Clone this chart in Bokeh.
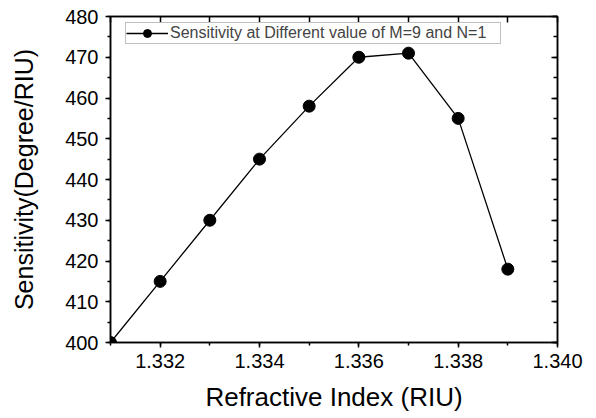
from bokeh.plotting import figure
from bokeh.models import (LinearAxis, Range1d, Legend, LegendItem, FixedTicker,
                          CustomJSTickFormatter, PrintfTickFormatter)
from bokeh.embed import file_html
from bokeh.resources import INLINE

refractive_index = [1.331, 1.332, 1.333, 1.334, 1.335, 1.336, 1.337, 1.338, 1.339]
sensitivity = [400, 415, 430, 445, 458, 470, 471, 455, 418]
x_ticks = [1.332, 1.334, 1.336, 1.338, 1.340]
x_minor = [1.331, 1.332, 1.333, 1.334, 1.335, 1.336, 1.337, 1.338, 1.339, 1.340]
y_ticks = [400, 410, 420, 430, 440, 450, 460, 470, 480]
y_minor = [400, 405, 410, 415, 420, 425, 430, 435, 440, 445, 450, 455, 460, 465, 470, 475, 480]

FONT = "Liberation Sans"

p = figure(width=596, height=418, output_backend="svg", toolbar_location=None,
           x_range=Range1d(1.331, 1.340), y_range=Range1d(400, 480),
           min_border_left=110, min_border_right=39, min_border_top=16, min_border_bottom=76)
p.xgrid.visible = False
p.ygrid.visible = False
p.outline_line_color = "black"
p.outline_line_width = 1.5
p.background_fill_color = "white"
p.border_fill_color = "white"

for ax in [p.xaxis[0], p.yaxis[0]]:
    ax.axis_line_width = 1.5
    ax.major_tick_line_width = 1.5
    ax.minor_tick_line_width = 1.5
    ax.major_tick_out = 5
    ax.major_tick_in = 0
    ax.minor_tick_out = 3
    ax.minor_tick_in = 0
    ax.major_label_text_font = FONT
    ax.major_label_text_font_size = "20px"
    ax.major_label_text_color = "black"
    ax.axis_label_text_font = FONT
    ax.axis_label_text_font_style = "normal"
    ax.axis_label_text_color = "black"

p.xaxis[0].axis_label_text_font_size = "26px"
p.yaxis[0].axis_label_text_font_size = "25px"
p.xaxis[0].ticker = FixedTicker(ticks=x_ticks, minor_ticks=x_minor)
p.yaxis[0].ticker = FixedTicker(ticks=y_ticks, minor_ticks=y_minor)
p.xaxis[0].formatter = PrintfTickFormatter(format="%.3f")
p.xaxis[0].axis_label = "Refractive Index (RIU)"
p.yaxis[0].axis_label = "Sensitivity(Degree/RIU)"
p.xaxis[0].major_label_standoff = 6
p.xaxis[0].axis_label_standoff = 11
p.yaxis[0].major_label_standoff = 7
p.yaxis[0].axis_label_standoff = 24

blank = CustomJSTickFormatter(code="return ''")
top = LinearAxis(ticker=FixedTicker(ticks=x_minor, minor_ticks=[]), formatter=blank,
                 major_tick_in=6, major_tick_out=0,
                 minor_tick_in=0, minor_tick_out=0, axis_line_width=1.5,
                 major_tick_line_width=1.5, minor_tick_line_width=1.5, major_label_standoff=0)
right = LinearAxis(ticker=FixedTicker(ticks=y_ticks, minor_ticks=y_minor), formatter=blank,
                   major_tick_in=6, major_tick_out=0,
                   minor_tick_in=4, minor_tick_out=0, axis_line_width=1.5,
                   major_tick_line_width=1.5, minor_tick_line_width=1.5, major_label_standoff=0)
p.add_layout(top, "above")
p.add_layout(right, "right")

ln = p.line(refractive_index, sensitivity, line_color="black", line_width=1.3)
sc = p.scatter(refractive_index, sensitivity, size=12, fill_color="black", line_color="black")

legend = Legend(items=[LegendItem(label="Sensitivity at Different value of M=9 and N=1", renderers=[ln, sc])],
                location=(15, 298), label_text_font=FONT, label_text_font_size="16px",
                border_line_color="gray", border_line_width=1, background_fill_alpha=1,
                padding=0, margin=0, spacing=0, glyph_width=42, glyph_height=20,
                label_standoff=2, label_height=18, label_width=330)
p.add_layout(legend)

open("out.html", "w").write(file_html(p, INLINE))
